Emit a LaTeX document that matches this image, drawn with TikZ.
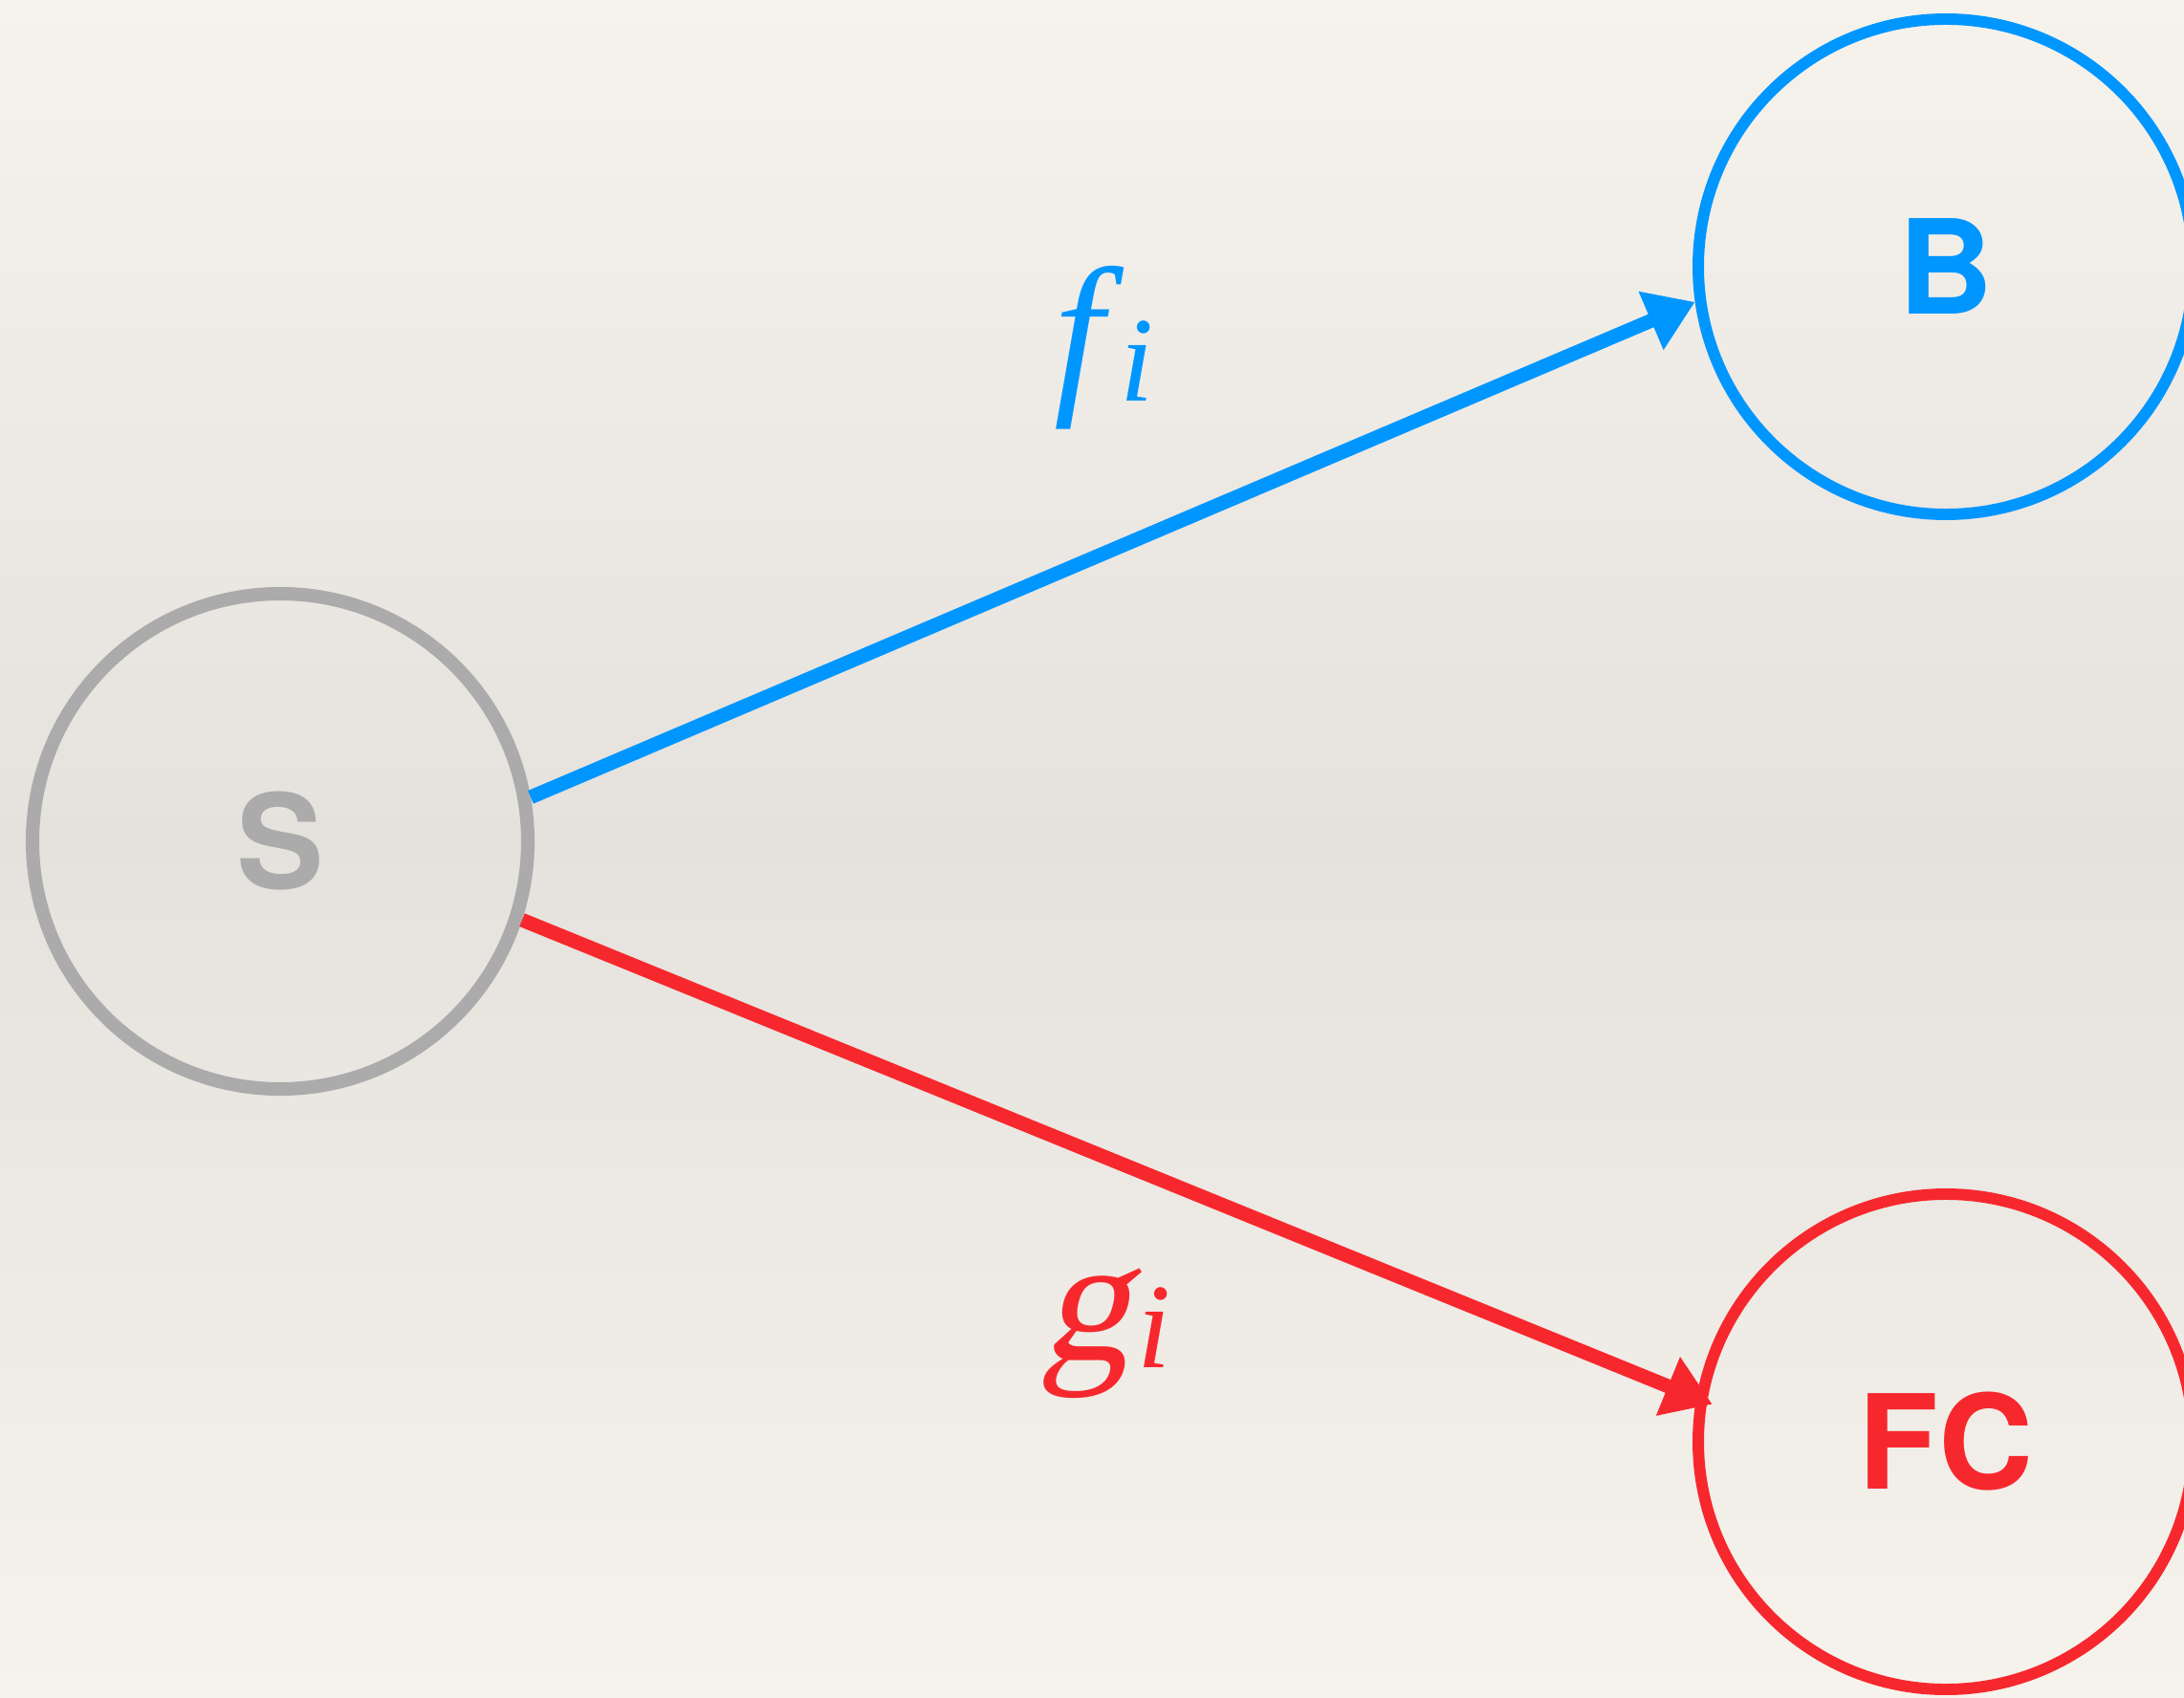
\documentclass[tikz,border=0pt]{standalone}
\usepackage{fontspec}
\setmainfont{Liberation Serif}
\newfontfamily\nutfont{texgyreheros-bold.otf}
\newfontfamily\nghieng[FakeSlant=0.22]{Liberation Serif}
\usepackage{xcolor}
\usetikzlibrary{arrows.meta, positioning}

\definecolor{xanh}{HTML}{0096FF}
\definecolor{do}{HTML}{F7282D}
\definecolor{xam}{HTML}{ABABAB}
\definecolor{giaysang}{HTML}{F6F3ED}
\definecolor{giaytoi}{HTML}{E5E1DC}

\newcommand{\chiso}[1]{\itshape\fontsize{36}{38}\selectfont #1}

\begin{document}
\begin{tikzpicture}[>={Triangle[length=0.5cm, width=0.63cm]},
    nut/.style={circle, draw, line width=3.4pt, minimum size=5.18cm, inner sep=0pt,
        font=\nutfont\fontsize{39}{42}\selectfont},
    nhan/.style={inner sep=0pt, anchor=base west},
    canh/.style={line width=4.2pt, ->}]
    % Nền giấy
    \useasboundingbox (0,0) rectangle (22.84,-17.76);
    \shade[top color=giaysang, bottom color=giaytoi] (0,0) rectangle (22.84,-8.8);
    \shade[top color=giaytoi, bottom color=giaysang] (0,-8.8) rectangle (22.84,-17.76);

    \node[nut, xam, line width=4pt] (S) at (2.93,-8.80) {S};
    \node[nut, xanh] (B) at (20.35,-2.79) {B};
    \node[nut, do] (FC) at (20.35,-15.08) {FC};

    \draw[canh, xanh] (S.10.5) -- (B.188.5);
    \draw[canh, do, shorten >=-0.18cm] (S.342.8) -- (FC.170.1);

    \node[nhan, xanh] (f) at (11.02,-4.10)
        {{\itshape\fontsize{53}{55}\selectfont f}\kern0.17cm\raisebox{-0.1cm}{\chiso{i}}};
    \node[nhan, do] (g) at (10.88,-14.22)
        {{\nghieng\fontsize{53}{55}\selectfont g}\kern0.08cm\raisebox{-0.08cm}{\chiso{i}}};
\end{tikzpicture}
\end{document}
